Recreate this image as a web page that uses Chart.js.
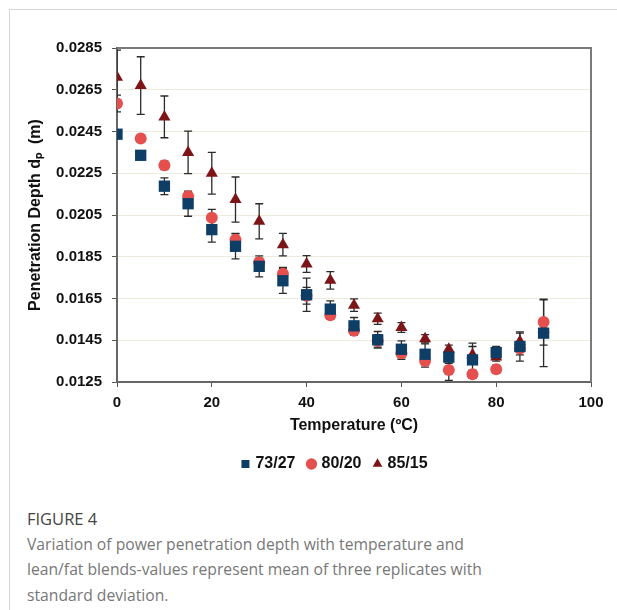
<!DOCTYPE html>
<html>
<head>
<meta charset="utf-8">
<script src="https://cdn.jsdelivr.net/npm/chart.js@4"></script>
<style>
  body { margin: 0; background: #fff; width: 617px; height: 610px; overflow: hidden; position: relative; }
  .card { position: absolute; left: 9px; top: 9px; right: 0; bottom: 0; border-top: 1px solid #d6d6d6; border-left: 1px solid #d6d6d6; }
  #chart { position: absolute; left: 0; top: 0; }
  .caption { position: absolute; left: 27px; top: 506px; width: 480px; font-family: "Open Sans", sans-serif; font-size: 15.7px; line-height: 25.5px; color: #777; }
  .caption .fig { color: #454545; font-size: 16.5px; }
</style>
</head>
<body>
<div class="card"></div>
<canvas id="chart" width="617" height="500"></canvas>
<div class="caption">
  <div class="fig">FIGURE 4</div>
  <div>Variation of power penetration depth with temperature and lean/fat blends-values represent mean of three replicates with standard deviation.</div>
</div>
<script>
// temperatures (ºC)
const temps = [0, 5, 10, 15, 20, 25, 30, 35, 40, 45, 50, 55, 60, 65, 70, 75, 80, 85, 90];

// penetration depth (m) and standard deviation for each lean/fat blend
const blend7327 = [0.02437, 0.02336, 0.02188, 0.02104, 0.01980, 0.01900, 0.01804, 0.01735, 0.01668, 0.01599, 0.01519, 0.01452, 0.01407, 0.01383, 0.01369, 0.01356, 0.01391, 0.01420, 0.01484];
const sd7327 = [0.0001, 0.0001, 0.0004, 0.0006, 0.0006, 0.0006, 0.0005, 0.0006, 0.0008, 0.0004, 0.0004, 0.0004, 0.0004, 0.0005, 0.0003, 0.0008, 0.0003, 0.0007, 0.0016];

const blend8020 = [0.02584, 0.02416, 0.02288, 0.02140, 0.02037, 0.01932, 0.01823, 0.01769, 0.01663, 0.01570, 0.01495, 0.01447, 0.01388, 0.01351, 0.01308, 0.01287, 0.01311, 0.01410, 0.01537];
const sd8020 = [0.0004, 0.0001, 0.0002, 0.0002, 0.0004, 0.0003, 0.0002, 0.0003, 0.0004, 0.0002, 0.0002, 0.0003, 0.0003, 0.0003, 0.0005, 0.0002, 0.0002, 0.0003, 0.0011];

const blend8515 = [0.0271, 0.0267, 0.0252, 0.0235, 0.0225, 0.02124, 0.0202, 0.01908, 0.01815, 0.01737, 0.01618, 0.01553, 0.01511, 0.01457, 0.01407, 0.0138, 0.0137, 0.01444, 0.01503];
const sd8515 = [0.0013, 0.00138, 0.0010, 0.00102, 0.0010, 0.00108, 0.00084, 0.00054, 0.0004, 0.00042, 0.0003, 0.00027, 0.00023, 0.0002, 0.0002, 0.0004, 0.0002, 0.0004, 0.0002];

const seriesLabels = ['73/27', '80/20', '85/15'];

function toPoints(values) {
    return temps.map((t, i) => ({ x: t, y: values[i] }));
}

// error bars drawn behind the markers, plus the top/right frame
const errorBars = {
    id: 'errorBars',
    afterLayout(chart) {
        // legend sits a little right of the canvas centre in the original
        chart.legend.left += 27;
        chart.legend.right += 27;
    },
    beforeDatasetsDraw(chart) {
        const { ctx, chartArea, scales: { x, y } } = chart;
        ctx.save();
        ctx.beginPath();
        ctx.rect(chartArea.left, chartArea.top - 1, chartArea.right - chartArea.left, chartArea.bottom - chartArea.top + 2);
        ctx.clip();
        ctx.strokeStyle = '#2b2b2b';
        ctx.lineWidth = 1.3;
        chart.data.datasets.forEach(ds => {
            ds.data.forEach((p, i) => {
                const e = ds.sd[i];
                const px = x.getPixelForValue(p.x);
                const top = y.getPixelForValue(p.y + e);
                const bot = y.getPixelForValue(p.y - e);
                ctx.beginPath();
                ctx.moveTo(px, top); ctx.lineTo(px, bot);
                ctx.moveTo(px - 4, top); ctx.lineTo(px + 4, top);
                ctx.moveTo(px - 4, bot); ctx.lineTo(px + 4, bot);
                ctx.stroke();
            });
        });
        ctx.restore();

        ctx.save();
        ctx.strokeStyle = '#7a7a7a';
        ctx.lineWidth = 2;
        ctx.beginPath();
        ctx.moveTo(chartArea.left, chartArea.top);
        ctx.lineTo(chartArea.right, chartArea.top);
        ctx.lineTo(chartArea.right, chartArea.bottom);
        ctx.stroke();
        ctx.restore();
    }
};

const ctx = document.getElementById('chart').getContext('2d');
new Chart(ctx, {
    type: 'scatter',
    data: {
        datasets: [
            { label: seriesLabels[0], data: toPoints(blend7327), sd: sd7327, pointStyle: 'rect', pointRadius: 8, pointHoverRadius: 8,
              backgroundColor: '#0e3d66', borderColor: '#0e3d66', borderWidth: 0 },
            { label: seriesLabels[1], data: toPoints(blend8020), sd: sd8020, pointStyle: 'circle', pointRadius: 6, pointHoverRadius: 6,
              backgroundColor: '#e5504f', borderColor: '#e5504f', borderWidth: 0 },
            { label: seriesLabels[2], data: toPoints(blend8515), sd: sd8515, pointStyle: 'triangle', pointRadius: 7, pointHoverRadius: 7,
              backgroundColor: '#7d1518', borderColor: '#7d1518', borderWidth: 0 }
        ]
    },
    options: {
        responsive: false,
        animation: false,
        devicePixelRatio: 1,
        layout: { padding: { left: 26, right: 26, top: 48, bottom: 18 } },
        plugins: {
            tooltip: { enabled: false },
            legend: {
                position: 'bottom',
                labels: {
                    usePointStyle: true,
                    boxHeight: 8,
                    boxWidth: 4,
                    padding: 14,
                    color: '#111',
                    font: { family: 'Liberation Sans, Arial, sans-serif', size: 16, weight: 'bold' }
                }
            }
        },
        scales: {
            x: {
                type: 'linear',
                min: 0,
                max: 100,
                ticks: { stepSize: 20, padding: 7, color: '#111',
                         font: { family: 'Liberation Sans, Arial, sans-serif', size: 15, weight: 'bold' } },
                grid: { drawOnChartArea: false, tickColor: '#555', tickLength: 5 },
                border: { color: '#666', width: 2 },
                title: { display: true, text: 'Temperature (ºC)', color: '#111', padding: { top: 0, bottom: 7 },
                         font: { family: 'Liberation Sans, Arial, sans-serif', size: 16, weight: 'bold' } },
                afterFit: s => { s.height = 60; }
            },
            y: {
                min: 0.0125,
                max: 0.0285,
                ticks: { stepSize: 0.002, padding: 10, color: '#111',
                         callback: v => v.toFixed(4),
                         font: { family: 'Liberation Sans, Arial, sans-serif', size: 15, weight: 'bold' } },
                grid: { color: '#eeeadc', tickColor: '#555', tickLength: 5 },
                border: { color: '#666', width: 2 },
                title: { display: true, text: 'Penetration Depth dₚ  (m)', color: '#111', padding: { top: 0, bottom: 0 },
                         font: { family: 'Liberation Sans, Arial, sans-serif', size: 16, weight: 'bold' } },
                afterFit: s => { s.width = 91; }
            }
        }
    },
    plugins: [errorBars]
});
</script>
</body>
</html>
